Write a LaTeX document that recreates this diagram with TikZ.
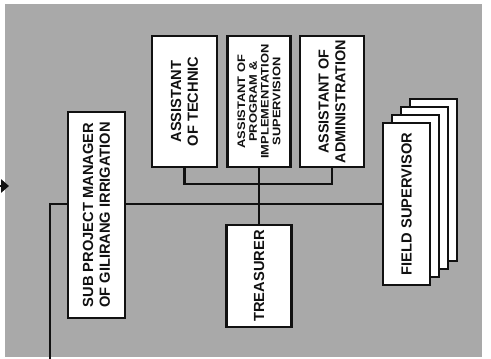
\documentclass[tikz,border=0pt]{standalone}
\usepackage{fontspec}
\setmainfont{Liberation Sans}
\newfontfamily\widefont[FakeStretch=1.18]{Liberation Sans}
\usetikzlibrary{arrows.meta, backgrounds}
\definecolor{cscreen}{HTML}{A9A9A9}
\definecolor{cline}{HTML}{111111}
\newcommand{\px}{0.75pt}

\begin{document}
\begin{tikzpicture}[
  x=0.75pt, y=-0.75pt,
  font=\bfseries\fontsize{11}{12.5}\selectfont,
  unit/.style={draw=cline, fill=white, text=cline, line width=2.2pt,
               rotate=90, align=center, inner sep=0pt},
  sheet/.style={unit, line width=1.8pt, minimum width=162*\px, minimum height=47*\px},
  link/.style={draw=cline, line width=1.6pt},
  feed/.style={-{Triangle[length=6pt, width=10pt]}, draw=cline, line width=1.6pt}
]
\useasboundingbox (0,0) rectangle (491,359);

% manager
\node[unit, minimum width=206*\px, minimum height=57*\px] (mgr) at (96.5,215)
  {SUB PROJECT MANAGER\\OF GILIRANG IRRIGATION};

% assistants
\node[unit, minimum width=131*\px, minimum height=65*\px] (tech) at (184.5,101.5)
  {ASSISTANT\\OF TECHNIC};
\node[unit, minimum width=131*\px, minimum height=63*\px,
      font=\widefont\bfseries\fontsize{8.2}{8.8}\selectfont] (prog) at (259,101.5)
  {ASSISTANT OF\\PROGRAM \&\\IMPLEMENTATION\\SUPERVISION};
\node[unit, minimum width=131*\px, minimum height=64*\px,
      font=\bfseries\fontsize{10.8}{12.5}\selectfont] (admin) at (332,101.5)
  {ASSISTANT OF\\ADMINISTRATION};

% treasurer
\node[unit, minimum width=102*\px, minimum height=65*\px] (treas) at (259,276) {TREASURER};

% field supervisors (stacked sheets)
\node[sheet] (sup4) at (433.5,180) {};
\node[sheet] (sup3) at (424.5,188) {};
\node[sheet] (sup2) at (415.5,196) {};
\node[sheet] (sup1) at (406.5,204) {FIELD SUPERVISOR};

\coordinate (tap) at (259,184);
\coordinate (foot) at (50,359);
\coordinate (entry) at (0,186);
\coordinate (entrytip) at (9,186);

\begin{scope}[on background layer]
\fill[cscreen] (5,4) rectangle (482,357);
\draw[link] (tech.west) |- (tap) -| (admin.west);
\draw[link] (prog.west) -- (treas.east);
\draw[link] (foot) |- (sup1.north);
\draw[feed] (entry) -- (entrytip);
\end{scope}
\end{tikzpicture}
\end{document}
